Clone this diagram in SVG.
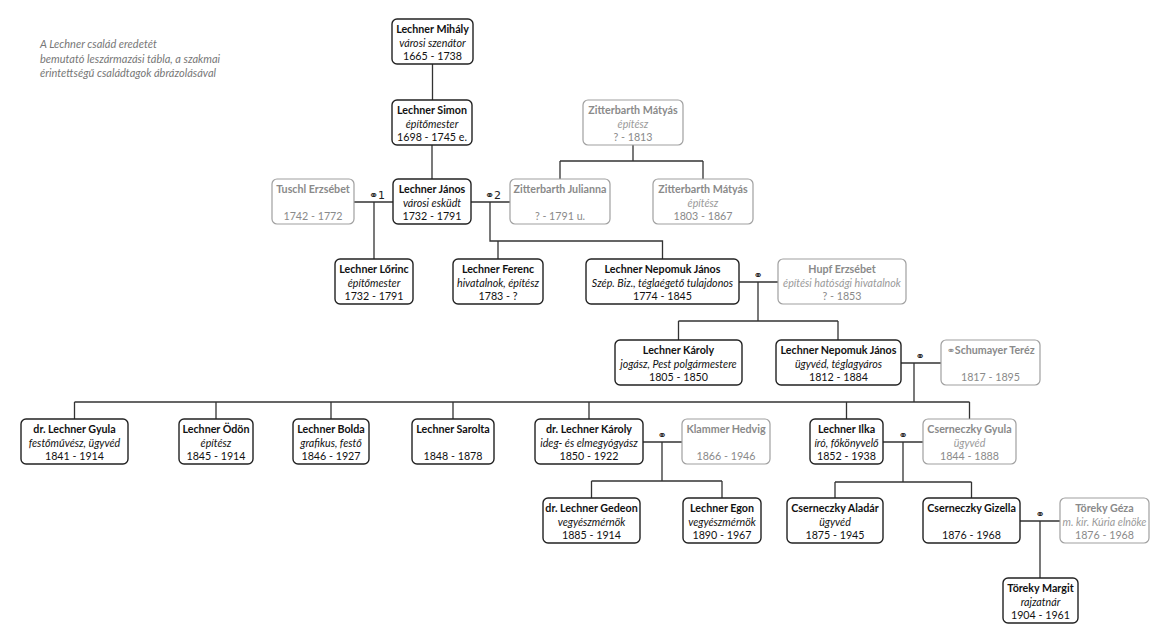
<svg xmlns="http://www.w3.org/2000/svg" width="1170" height="643" viewBox="0 0 1170 643">
<style>
text{font-family:Lato,"DejaVu Sans",sans-serif;font-size:10.7px;text-anchor:middle;fill:#111}
.n{font-weight:bold}
.r{font-style:italic}
.box{fill:#fff;stroke:#222;stroke-width:1.4}
.g .box{stroke:#a0a0a0;stroke-width:1.2}
.g text{fill:#8a8a8a}
.g .r{fill:#9a9a9a}
.cap{text-anchor:start;font-style:italic;fill:#777;font-size:11px}
.lines path{fill:none;stroke:#333;stroke-width:1.3}
.m{font-family:"DejaVu Sans",sans-serif;font-size:11px;fill:#222}
.sym{font-family:"DejaVu Sans",sans-serif;font-size:10px;font-weight:normal}
</style>
<rect width="1170" height="643" fill="#fff"/>
<g id="caption">
<text class="cap" x="40" y="48">A Lechner család eredetét</text>
<text class="cap" x="40" y="62.5">bemutató leszármazási tábla, a szakmai</text>
<text class="cap" x="40" y="77">érintettségű családtagok ábrázolásával</text>
</g>
<g class="lines" id="connectors">
<path d="M432.5 64V100M432 145V179"/>
<path d="M633 145V161M560 161H703M560 161V179M703 161V179"/>
<path d="M354 202H393M374 202V259"/>
<path d="M471 202H510M490 202V241H662.5V259M498 241V259"/>
<path d="M739 282H778M758 282V321M678.5 321H838M678.5 321V340M838 321V340"/>
<path d="M900 363H941M914 363V402M74.5 402H969.5M74.5 402V419M216 402V419M331 402V419M453 402V419M589 402V419M846.5 402V419M969.5 402V419"/>
<path d="M643 442H682M662 442V481M591.5 481H722M591.5 481V498M722 481V498"/>
<path d="M883 442H923M903 442V482M835 482H971.5M835 482V498M971.5 482V498"/>
<path d="M1020 521H1060M1040 521V578"/>
<text class="m" x="377" y="199">⚭1</text>
<text class="m" x="493" y="199">⚭2</text>
<text class="m" x="758" y="279">⚭</text>
<text class="m" x="920" y="360">⚭</text>
<text class="m" x="662" y="439">⚭</text>
<text class="m" x="903" y="439">⚭</text>
<text class="m" x="1040" y="518">⚭</text>
</g>
<g id="mihaly"><rect class="box" x="392" y="19" width="81" height="45" rx="5"/><text class="n" x="432.5" y="33">Lechner Mihály</text><text class="r" x="432.5" y="47">városi szenátor</text><text x="432.5" y="60">1665 - 1738</text></g>
<g id="simon"><rect class="box" x="392" y="100" width="80" height="45" rx="5"/><text class="n" x="432" y="114">Lechner Simon</text><text class="r" x="432" y="128">építőmester</text><text x="432" y="141">1698 - 1745 e.</text></g>
<g id="zitterbarth-matyas-1" class="g"><rect class="box" x="583" y="100" width="100" height="45" rx="5"/><text class="n" x="633" y="114">Zitterbarth Mátyás</text><text class="r" x="633" y="128">építész</text><text x="633" y="141">? - 1813</text></g>
<g id="tuschl" class="g"><rect class="box" x="272" y="179" width="82" height="45" rx="5"/><text class="n" x="313" y="193">Tuschl Erzsébet</text><text x="313" y="220">1742 - 1772</text></g>
<g id="janos"><rect class="box" x="393" y="179" width="78" height="45" rx="5"/><text class="n" x="432" y="193">Lechner János</text><text class="r" x="432" y="207">városi esküdt</text><text x="432" y="220">1732 - 1791</text></g>
<g id="julianna" class="g"><rect class="box" x="510" y="179" width="100" height="45" rx="5"/><text class="n" x="560" y="193">Zitterbarth Julianna</text><text x="560" y="220">? - 1791 u.</text></g>
<g id="zitterbarth-matyas-2" class="g"><rect class="box" x="653" y="179" width="100" height="45" rx="5"/><text class="n" x="703" y="193">Zitterbarth Mátyás</text><text class="r" x="703" y="207">építész</text><text x="703" y="220">1803 - 1867</text></g>
<g id="lorinc"><rect class="box" x="335" y="259" width="78" height="45" rx="5"/><text class="n" x="374" y="273">Lechner Lőrinc</text><text class="r" x="374" y="287">építőmester</text><text x="374" y="300">1732 - 1791</text></g>
<g id="ferenc"><rect class="box" x="453" y="259" width="90" height="45" rx="5"/><text class="n" x="498" y="273">Lechner Ferenc</text><text class="r" x="498" y="287">hivatalnok, építész</text><text x="498" y="300">1783 - ?</text></g>
<g id="nepomuk-1"><rect class="box" x="586" y="259" width="153" height="45" rx="5"/><text class="n" x="662.5" y="273">Lechner Nepomuk János</text><text class="r" x="662.5" y="287">Szép. Biz., téglaégető tulajdonos</text><text x="662.5" y="300">1774 - 1845</text></g>
<g id="hupf" class="g"><rect class="box" x="778" y="259" width="128" height="45" rx="5"/><text class="n" x="842" y="273">Hupf Erzsébet</text><text class="r" x="842" y="287">építési hatósági hivatalnok</text><text x="842" y="300">? - 1853</text></g>
<g id="karoly-1"><rect class="box" x="615" y="340" width="127" height="45" rx="5"/><text class="n" x="678.5" y="354">Lechner Károly</text><text class="r" x="678.5" y="368">jogász, Pest polgármestere</text><text x="678.5" y="381">1805 - 1850</text></g>
<g id="nepomuk-2"><rect class="box" x="776" y="340" width="125" height="45" rx="5"/><text class="n" x="838.5" y="354">Lechner Nepomuk János</text><text class="r" x="838.5" y="368">ügyvéd, téglagyáros</text><text x="838.5" y="381">1812 - 1884</text></g>
<g id="schumayer" class="g"><rect class="box" x="941" y="340" width="99" height="45" rx="5"/><text class="n" x="990.5" y="354"><tspan class="sym">⚭</tspan>Schumayer Teréz</text><text x="990.5" y="381">1817 - 1895</text></g>
<g id="gyula"><rect class="box" x="21" y="419" width="107" height="45" rx="5"/><text class="n" x="74.5" y="433">dr. Lechner Gyula</text><text class="r" x="74.5" y="447">festőművész, ügyvéd</text><text x="74.5" y="460">1841 - 1914</text></g>
<g id="odon"><rect class="box" x="179" y="419" width="74" height="45" rx="5"/><text class="n" x="216" y="433">Lechner Ödön</text><text class="r" x="216" y="447">építész</text><text x="216" y="460">1845 - 1914</text></g>
<g id="bolda"><rect class="box" x="293" y="419" width="76" height="45" rx="5"/><text class="n" x="331" y="433">Lechner Bolda</text><text class="r" x="331" y="447">grafikus, festő</text><text x="331" y="460">1846 - 1927</text></g>
<g id="sarolta"><rect class="box" x="412" y="419" width="82" height="45" rx="5"/><text class="n" x="453" y="433">Lechner Sarolta</text><text x="453" y="460">1848 - 1878</text></g>
<g id="karoly-2"><rect class="box" x="535" y="419" width="108" height="45" rx="5"/><text class="n" x="589" y="433">dr. Lechner Károly</text><text class="r" x="589" y="447">ideg- és elmegyógyász</text><text x="589" y="460">1850 - 1922</text></g>
<g id="klammer" class="g"><rect class="box" x="682" y="419" width="88" height="45" rx="5"/><text class="n" x="726" y="433">Klammer Hedvig</text><text x="726" y="460">1866 - 1946</text></g>
<g id="ilka"><rect class="box" x="810" y="419" width="73" height="45" rx="5"/><text class="n" x="846.5" y="433">Lechner Ilka</text><text class="r" x="846.5" y="447">író, főkönyvelő</text><text x="846.5" y="460">1852 - 1938</text></g>
<g id="cserneczky-gyula" class="g"><rect class="box" x="923" y="419" width="93" height="45" rx="5"/><text class="n" x="969.5" y="433">Cserneczky Gyula</text><text class="r" x="969.5" y="447">ügyvéd</text><text x="969.5" y="460">1844 - 1888</text></g>
<g id="gedeon"><rect class="box" x="543" y="498" width="97" height="45" rx="5"/><text class="n" x="591.5" y="512">dr. Lechner Gedeon</text><text class="r" x="591.5" y="526">vegyészmérnök</text><text x="591.5" y="539">1885 - 1914</text></g>
<g id="egon"><rect class="box" x="683" y="498" width="78" height="45" rx="5"/><text class="n" x="722" y="512">Lechner Egon</text><text class="r" x="722" y="526">vegyészmérnök</text><text x="722" y="539">1890 - 1967</text></g>
<g id="aladar"><rect class="box" x="787" y="498" width="96" height="45" rx="5"/><text class="n" x="835" y="512">Cserneczky Aladár</text><text class="r" x="835" y="526">ügyvéd</text><text x="835" y="539">1875 - 1945</text></g>
<g id="gizella"><rect class="box" x="923" y="498" width="97" height="45" rx="5"/><text class="n" x="971.5" y="512">Cserneczky Gizella</text><text x="971.5" y="539">1876 - 1968</text></g>
<g id="geza" class="g"><rect class="box" x="1060" y="498" width="89" height="45" rx="5"/><text class="n" x="1104.5" y="512">Töreky Géza</text><text class="r" x="1104.5" y="526" textLength="84" lengthAdjust="spacingAndGlyphs">m. kir. Kúria elnöke</text><text x="1104.5" y="539">1876 - 1968</text></g>
<g id="margit"><rect class="box" x="1003" y="578" width="75" height="45" rx="5"/><text class="n" x="1040.5" y="592">Töreky Margit</text><text class="r" x="1040.5" y="606">rajzatnár</text><text x="1040.5" y="619">1904 - 1961</text></g>
</svg>
